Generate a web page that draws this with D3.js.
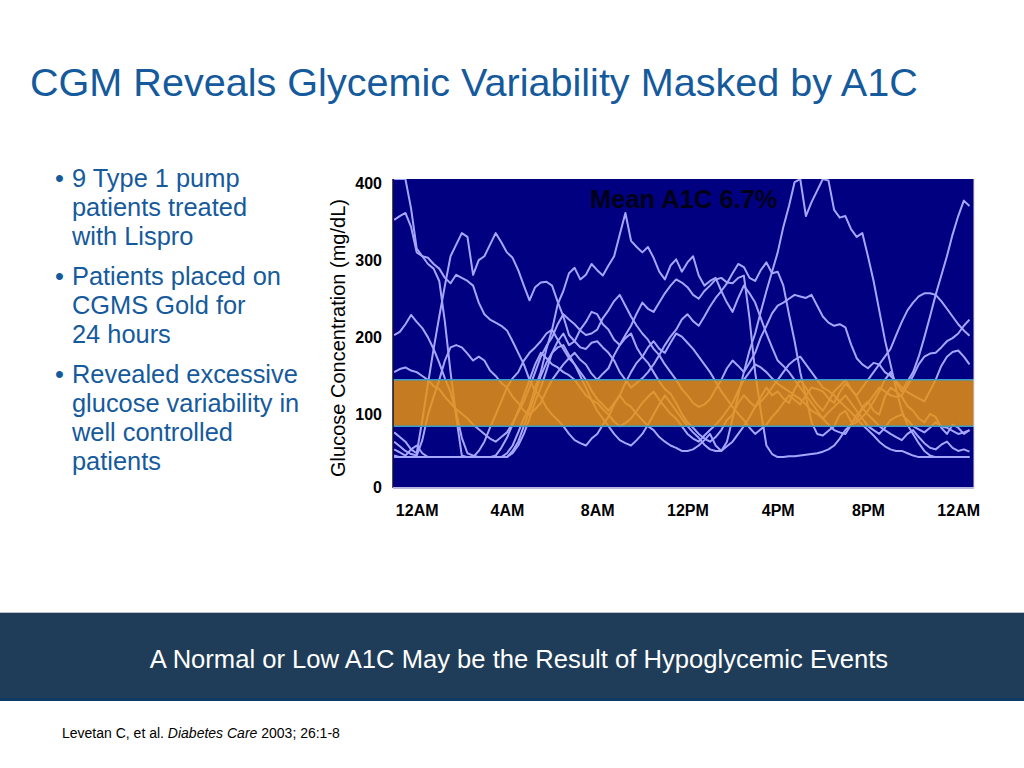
<!DOCTYPE html>
<html>
<head>
<meta charset="utf-8">
<title>CGM Reveals Glycemic Variability Masked by A1C</title>
<script src="https://cdn.jsdelivr.net/npm/d3@7"></script>
<style>
    body { margin: 0; background: #ffffff; }
    svg { display: block; font-family: "Liberation Sans", Arial, sans-serif; }
</style>
</head>
<body>
<div class="view1"></div>
<script>
// Sample times (hours after midnight), shared by all 9 patients
const hours = [-1, -0.75, -0.5, -0.25, 0, 0.25, 0.5, 0.75, 1, 1.25, 1.5, 1.75, 2, 2.25, 2.5, 2.75,
    3, 3.25, 3.5, 3.75, 4, 4.25, 4.5, 4.75, 5, 5.25, 5.5, 5.75, 6, 6.25, 6.5, 6.75,
    7, 7.25, 7.5, 7.75, 8, 8.25, 8.5, 8.75, 9, 9.25, 9.5, 9.75, 10, 10.25, 10.5, 10.75,
    11, 11.25, 11.5, 11.75, 12, 12.25, 12.5, 12.75, 13, 13.25, 13.5, 13.75, 14, 14.25, 14.5, 14.75,
    15, 15.25, 15.5, 15.75, 16, 16.25, 16.5, 16.75, 17, 17.25, 17.5, 17.75, 18, 18.25, 18.5, 18.75,
    19, 19.25, 19.5, 19.75, 20, 20.25, 20.5, 20.75, 21, 21.25, 21.5, 21.75, 22, 22.25, 22.5, 22.75,
    23, 23.25, 23.5, 23.75, 24, 24.25, 24.5];

// Glucose readings (mg/dL) - the CGMS clips at 40 and 400
const patient1 = [400, 400, 400, 362, 310, 300, 290, 284, 268, 215,
    150, 92, 42, 40, 40, 40, 40, 40, 40, 40,
    45, 55, 72, 90, 105, 130, 150, 180, 205, 238,
    255, 278, 285, 270, 276, 290, 282, 275, 288, 300,
    328, 356, 320, 312, 305, 312, 298, 280, 270, 288,
    296, 280, 292, 300, 275, 262, 268, 272, 255, 265,
    278, 290, 286, 272, 268, 282, 292, 278, 280, 262,
    225, 190, 150, 118, 85, 70, 68, 74, 80, 95,
    100, 86, 88, 105, 112, 100, 95, 118, 130, 125,
    118, 106, 100, 90, 85, 96, 92, 78, 70, 82,
    78, 70, 75];
const patient2 = [347, 352, 356, 338, 305, 300, 298, 290, 284, 272,
    265, 276, 272, 268, 262, 240, 225, 218, 214, 210,
    204, 190, 175, 160, 140, 126, 118, 104, 95, 88,
    80, 70, 62, 58, 55, 64, 70, 82, 92, 108,
    120, 110, 105, 96, 88, 80, 75, 66, 60, 55,
    52, 48, 48, 50, 55, 62, 70, 55, 48, 60,
    90, 120, 150, 178, 200, 228, 255, 280, 305, 338,
    365, 396, 400, 352, 370, 385, 400, 398, 360, 350,
    352, 335, 325, 330, 300, 268, 230, 192, 160, 128,
    100, 82, 70, 58, 48, 42, 40, 40, 40, 40,
    40, 40, 40];
const patient3 = [198, 202, 212, 224, 215, 207, 195, 180, 162, 142,
    124, 98, 65, 45, 42, 40, 40, 40, 40, 40,
    40, 45, 55, 70, 90, 112, 130, 152, 175, 190,
    200, 185, 190, 205, 215, 228, 225, 212, 205, 192,
    185, 194, 200, 182, 170, 162, 150, 138, 128, 122,
    110, 96, 85, 78, 70, 64, 60, 66, 75, 88,
    95, 110, 120, 112, 105, 118, 130, 120, 125, 116,
    110, 128, 140, 130, 118, 108, 100, 112, 125, 132,
    140, 128, 118, 104, 95, 88, 80, 75, 70, 66,
    62, 70, 75, 66, 58, 52, 50, 56, 60, 52,
    48, 50, 47];
const patient4 = [150, 154, 156, 152, 150, 145, 140, 132, 128, 118,
    110, 102, 96, 90, 82, 76, 70, 64, 60, 66,
    72, 84, 98, 112, 130, 150, 170, 184, 195, 212,
    225, 218, 212, 204, 198, 200, 205, 220, 230, 242,
    250, 236, 222, 210, 200, 192, 180, 172, 160, 150,
    140, 128, 120, 110, 105, 108, 115, 128, 140, 155,
    165, 158, 150, 162, 175, 195, 210, 226, 236, 240,
    245, 250, 248, 246, 250, 236, 222, 214, 210, 212,
    208, 186, 168, 160, 155, 162, 160, 150, 145, 138,
    130, 124, 120, 116, 112, 126, 140, 158, 170, 176,
    178, 170, 160];
const patient5 = [72, 66, 60, 50, 45, 88, 135, 180, 222, 262,
    300, 315, 330, 325, 276, 295, 300, 315, 330, 318,
    305, 298, 282, 262, 243, 260, 266, 267, 262, 241,
    222, 198, 190, 182, 180, 188, 190, 182, 175, 165,
    150, 140, 130, 136, 142, 150, 160, 172, 185, 196,
    205, 218, 225, 216, 210, 222, 235, 246, 255, 240,
    228, 246, 262, 252, 240, 220, 200, 182, 165, 158,
    150, 140, 130, 120, 110, 100, 90, 98, 105, 112,
    120, 110, 100, 90, 80, 75, 70, 78, 88, 92,
    95, 88, 80, 76, 72, 78, 85, 80, 78, 74,
    70, 72, 75];
const patient6 = [60, 54, 48, 44, 42, 62, 95, 118, 140, 165,
    182, 185, 182, 174, 165, 170, 165, 152, 145, 136,
    130, 118, 110, 100, 95, 102, 110, 126, 140, 150,
    160, 168, 175, 166, 160, 148, 140, 148, 155, 172,
    185, 198, 210, 226, 240, 232, 228, 240, 252, 262,
    270, 266, 260, 250, 245, 255, 262, 270, 272, 266,
    265, 272, 275, 220, 150, 100, 55, 44, 40, 40,
    41, 41, 42, 43, 44, 45, 47, 50, 55, 64,
    75, 82, 85, 92, 100, 112, 125, 140, 150, 136,
    125, 138, 150, 170, 195, 222, 250, 275, 300, 328,
    352, 372, 365];
const patient7 = [50, 46, 42, 50, 55, 45, 40, 40, 40, 40,
    40, 40, 40, 40, 40, 48, 60, 78, 95, 112,
    130, 142, 150, 165, 175, 182, 190, 200, 205, 192,
    180, 168, 160, 150, 140, 126, 115, 108, 100, 110,
    120, 136, 150, 162, 170, 182, 190, 180, 175, 188,
    200, 196, 188, 180, 170, 160, 150, 138, 125, 115,
    105, 96, 88, 78, 70, 76, 82, 92, 100, 110,
    120, 114, 108, 120, 130, 128, 125, 116, 110, 124,
    135, 128, 120, 130, 140, 150, 160, 170, 180, 198,
    215, 230, 240, 248, 252, 252, 250, 242, 232, 222,
    212, 204, 197];
const patient8 = [42, 40, 40, 40, 40, 40, 40, 40, 40, 40,
    40, 40, 40, 40, 40, 40, 40, 40, 42, 52,
    65, 82, 100, 120, 140, 160, 175, 168, 160, 156,
    150, 146, 140, 130, 120, 114, 110, 102, 95, 86,
    80, 84, 90, 100, 110, 118, 125, 114, 105, 96,
    90, 80, 70, 64, 60, 68, 75, 82, 90, 100,
    110, 126, 140, 150, 160, 156, 150, 142, 135, 130,
    125, 120, 115, 108, 100, 96, 90, 82, 75, 72,
    70, 82, 95, 102, 110, 120, 130, 125, 120, 118,
    120, 132, 145, 160, 170, 174, 175, 182, 190, 194,
    200, 210, 218];
const patient9 = [40, 40, 40, 40, 40, 40, 40, 40, 40, 40,
    40, 40, 40, 40, 40, 40, 40, 40, 40, 40,
    40, 48, 60, 80, 100, 122, 145, 162, 175, 182,
    185, 172, 160, 145, 130, 114, 100, 90, 80, 70,
    62, 58, 55, 62, 70, 82, 95, 108, 120, 110,
    100, 90, 80, 72, 65, 56, 50, 48, 48, 54,
    60, 70, 80, 92, 105, 112, 120, 130, 140, 150,
    160, 166, 170, 160, 150, 140, 130, 126, 120, 112,
    105, 98, 90, 82, 75, 68, 60, 54, 50, 48,
    48, 45, 42, 40, 40, 40, 40, 40, 40, 40,
    40, 40, 40];

const patients = [patient1, patient2, patient3, patient4, patient5, patient6, patient7, patient8, patient9];

// Target range shown as the orange band
const targetRange = [80, 140];

// Axis ticks
const hourTicks = [0, 4, 8, 12, 16, 20, 24];
const hourLabels = ["12AM", "4AM", "8AM", "12PM", "4PM", "8PM", "12AM"];
const glucoseTicks = [0, 100, 200, 300, 400];

const bullets = [
    ["9 Type 1 pump", "patients treated", "with Lispro"],
    ["Patients placed on", "CGMS Gold for", "24 hours"],
    ["Revealed excessive", "glucose variability in", "well controlled", "patients"]
];

const blue = "#155a9c";

let svg = d3.select(".view1").append("svg")
    .attr("width", 1024)
    .attr("height", 768);

svg.append("rect").attr("width", 1024).attr("height", 768).attr("fill", "#ffffff");

// Slide title
svg.append("text")
    .attr("x", 30).attr("y", 96)
    .attr("font-size", 39.6)
    .attr("fill", blue)
    .text("CGM Reveals Glycemic Variability Masked by A1C");

// Bullet list on the left
let bulletGroup = svg.append("g").attr("fill", blue).attr("font-size", 25.4);
let lineY = 187;
bullets.forEach(function (lines) {
    bulletGroup.append("text").attr("x", 55).attr("y", lineY).text("\u2022");
    lines.forEach(function (line) {
        bulletGroup.append("text").attr("x", 72).attr("y", lineY).text(line);
        lineY += 29;
    });
    lineY += 11;
});

// Plot area
const plot = {left: 393, right: 974, top: 179, bottom: 488};

let x = d3.scaleLinear()
    .domain([-1.05, 24.7])
    .range([plot.left, plot.right]);
let y = d3.scaleLinear()
    .domain([0, 400])
    .range([plot.bottom, plot.top]);

svg.append("defs").append("clipPath").attr("id", "plotClip")
    .append("rect")
    .attr("x", plot.left).attr("y", plot.top)
    .attr("width", plot.right - plot.left).attr("height", plot.bottom - plot.top);

svg.append("rect")
    .attr("x", plot.left).attr("y", plot.top)
    .attr("width", plot.right - plot.left).attr("height", plot.bottom - plot.top)
    .attr("fill", "#000080");

let line = d3.line()
    .x((d, i) => x(hours[i]))
    .y(d => y(d));

// Patient traces
svg.append("g")
    .attr("clip-path", "url(#plotClip)")
    .selectAll("path")
    .data(patients)
    .enter().append("path")
    .attr("d", line)
    .attr("fill", "none")
    .attr("stroke", "#a6a6ff")
    .attr("stroke-width", 2)
    .attr("stroke-linejoin", "round");

// Orange band sits on top of the traces, slightly see-through
svg.append("rect")
    .attr("x", plot.left).attr("y", y(targetRange[1]))
    .attr("width", plot.right - plot.left)
    .attr("height", y(targetRange[0]) - y(targetRange[1]))
    .attr("fill", "#eb930e")
    .attr("fill-opacity", 0.84);

svg.selectAll("line.bandEdge")
    .data(targetRange)
    .enter().append("line")
    .attr("class", "bandEdge")
    .attr("x1", plot.left).attr("x2", plot.right)
    .attr("y1", d => y(d)).attr("y2", d => y(d))
    .attr("stroke", "#3a9cc8")
    .attr("stroke-width", 1.5);

// Frame: dark left edge, pale bottom and right edges
svg.append("line")
    .attr("x1", plot.left).attr("x2", plot.left)
    .attr("y1", plot.top).attr("y2", plot.bottom)
    .attr("stroke", "#101030").attr("stroke-width", 1.5);
svg.append("line")
    .attr("x1", plot.left).attr("x2", plot.right)
    .attr("y1", plot.bottom).attr("y2", plot.bottom)
    .attr("stroke", "#b8b8e0").attr("stroke-width", 2);
svg.append("line")
    .attr("x1", plot.right).attr("x2", plot.right)
    .attr("y1", plot.top).attr("y2", plot.bottom)
    .attr("stroke", "#d8d8e8").attr("stroke-width", 1);

// Axes
let yAxis = svg.append("g")
    .attr("transform", "translate(" + plot.left + ",4)")
    .call(d3.axisLeft(y).tickValues(glucoseTicks).tickSize(0).tickPadding(11));
let xAxis = svg.append("g")
    .attr("transform", "translate(0," + plot.bottom + ")")
    .call(d3.axisBottom(x).tickValues(hourTicks).tickSize(0).tickPadding(17)
        .tickFormat((d, i) => hourLabels[i]));

[yAxis, xAxis].forEach(function (axis) {
    axis.select(".domain").remove();
    axis.selectAll("text")
        .attr("font-family", "\"Liberation Sans\", Arial, sans-serif")
        .attr("font-size", 16)
        .attr("font-weight", "bold")
        .attr("fill", "#000000");
});
yAxis.selectAll(".tick").filter(d => d === 0).attr("transform", "translate(0," + y(0) + ") translate(0,-4)");

svg.append("text")
    .attr("transform", "translate(345,338) rotate(-90)")
    .attr("text-anchor", "middle")
    .attr("font-size", 20)
    .attr("fill", "#000000")
    .text("Glucose Concentration (mg/dL)");

svg.append("text")
    .attr("x", 590).attr("y", 208)
    .attr("font-size", 25.5)
    .attr("font-weight", "bold")
    .attr("fill", "#000018")
    .text("Mean A1C 6.7%");

// Bottom banner
svg.append("rect")
    .attr("x", 0).attr("y", 612).attr("width", 1024).attr("height", 87)
    .attr("fill", "#1f3d58");
svg.append("line")
    .attr("x1", 0).attr("x2", 1024).attr("y1", 612.5).attr("y2", 612.5)
    .attr("stroke", "#b8c0c8").attr("stroke-width", 1);
svg.append("rect")
    .attr("x", 0).attr("y", 698).attr("width", 1024).attr("height", 3)
    .attr("fill", "#0e3a66");
svg.append("text")
    .attr("x", 519).attr("y", 668)
    .attr("text-anchor", "middle")
    .attr("font-size", 25.6)
    .attr("fill", "#ffffff")
    .text("A Normal or Low A1C May be the Result of Hypoglycemic Events");

// Reference
let ref = svg.append("text")
    .attr("x", 62).attr("y", 738)
    .attr("font-size", 14)
    .attr("fill", "#000000");
ref.append("tspan").text("Levetan C, et al. ");
ref.append("tspan").attr("font-style", "italic").text("Diabetes Care");
ref.append("tspan").text(" 2003; 26:1-8");
</script>
</body>
</html>
